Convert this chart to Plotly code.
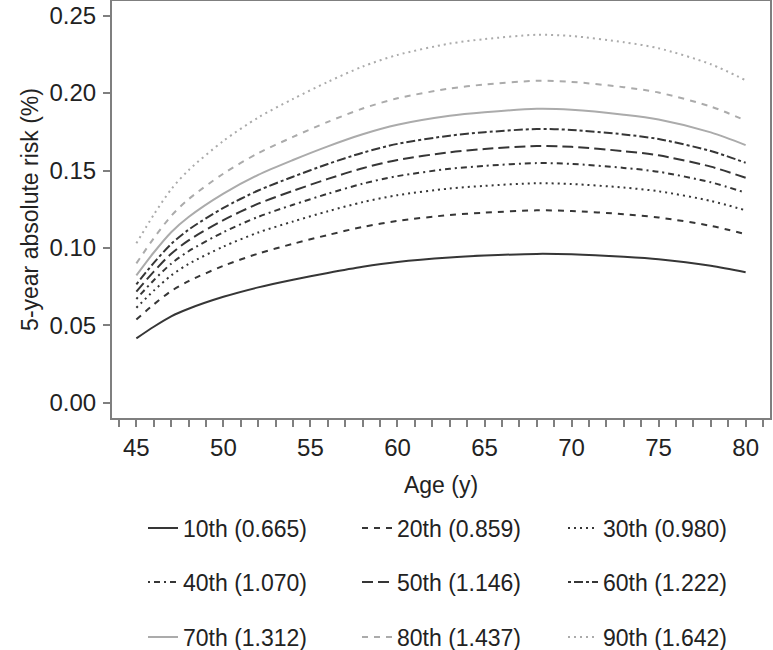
import plotly.graph_objects as go

ages = [45, 46, 47, 48, 50, 52, 54, 56, 58, 60, 63, 65, 68, 70, 73, 75, 78, 80]

p10 = [0.0417, 0.0492, 0.0559, 0.0608, 0.0685, 0.0746, 0.0795, 0.0839, 0.0879, 0.0910, 0.0939, 0.0951, 0.0962, 0.0959, 0.0943, 0.0927, 0.0885, 0.0843]
p20 = [0.0539, 0.0636, 0.0722, 0.0786, 0.0885, 0.0964, 0.1027, 0.1084, 0.1136, 0.1175, 0.1213, 0.1228, 0.1243, 0.1239, 0.1218, 0.1197, 0.1143, 0.1089]
p30 = [0.0614, 0.0725, 0.0823, 0.0897, 0.1009, 0.1100, 0.1171, 0.1237, 0.1296, 0.1341, 0.1384, 0.1401, 0.1418, 0.1413, 0.1390, 0.1366, 0.1304, 0.1243]
p40 = [0.0671, 0.0792, 0.0899, 0.0979, 0.1102, 0.1201, 0.1279, 0.1350, 0.1415, 0.1464, 0.1511, 0.1530, 0.1548, 0.1543, 0.1517, 0.1492, 0.1424, 0.1357]
p50 = [0.0719, 0.0848, 0.0963, 0.1049, 0.1180, 0.1286, 0.1369, 0.1446, 0.1515, 0.1568, 0.1618, 0.1639, 0.1658, 0.1653, 0.1625, 0.1598, 0.1525, 0.1453]
p60 = [0.0766, 0.0904, 0.1026, 0.1118, 0.1259, 0.1371, 0.1460, 0.1542, 0.1615, 0.1672, 0.1725, 0.1747, 0.1768, 0.1762, 0.1733, 0.1703, 0.1626, 0.1550]
p70 = [0.0823, 0.0971, 0.1102, 0.1200, 0.1351, 0.1472, 0.1568, 0.1656, 0.1734, 0.1795, 0.1853, 0.1876, 0.1898, 0.1892, 0.1860, 0.1829, 0.1746, 0.1664]
p80 = [0.0901, 0.1063, 0.1207, 0.1315, 0.1480, 0.1612, 0.1717, 0.1814, 0.1900, 0.1966, 0.2029, 0.2055, 0.2079, 0.2072, 0.2038, 0.2003, 0.1913, 0.1822]
p90 = [0.1030, 0.1215, 0.1379, 0.1502, 0.1691, 0.1842, 0.1962, 0.2072, 0.2171, 0.2246, 0.2319, 0.2348, 0.2376, 0.2368, 0.2328, 0.2289, 0.2186, 0.2082]

series_labels = ["10th (0.665)", "20th (0.859)", "30th (0.980)",
                 "40th (1.070)", "50th (1.146)", "60th (1.222)",
                 "70th (1.312)", "80th (1.437)", "90th (1.642)"]
series_values = [p10, p20, p30, p40, p50, p60, p70, p80, p90]

x_ticks = [45, 50, 55, 60, 65, 70, 75, 80]
y_ticks = [0.00, 0.05, 0.10, 0.15, 0.20, 0.25]

DARK = "#363636"
LIGHT = "#ababab"
styles = [
    (DARK, "solid"),
    (DARK, "6px,6px"),
    (DARK, "2px,4px"),
    (DARK, "2px,4px,6px,4px"),
    (DARK, "11px,5px"),
    (DARK, "3px,3px,9px,3px"),
    (LIGHT, "solid"),
    (LIGHT, "6px,6px"),
    (LIGHT, "2px,4px"),
]

FONT = "Liberation Sans, Arial, Helvetica, sans-serif"
TXT = "#222222"
W, H = 773, 650
ML, MR, MT, MB = 112, 3, 1, 232
PW, PH = W - ML - MR, H - MT - MB

col_px = [143, 357, 563]
row_px = [528, 582, 637]

fig = go.Figure()
legend_layouts = {}
for i, (lab, vals, (col, dash)) in enumerate(zip(series_labels, series_values, styles)):
    lid = "legend" if i == 0 else f"legend{i + 1}"
    fig.add_trace(go.Scatter(
        x=ages, y=vals, mode="lines", name=lab,
        line=dict(color=col, dash=dash, width=2, shape="spline", smoothing=0.8),
        legend=lid, hoverinfo="skip",
    ))
    cx = col_px[i % 3]
    ry = row_px[i // 3]
    legend_layouts[lid] = dict(
        x=(cx - ML) / PW, xanchor="left", y=(H - MB - ry) / PH, yanchor="middle",
        font=dict(family=FONT, size=23, color=TXT),
        bgcolor="rgba(0,0,0,0)", borderwidth=0, itemwidth=30,
    )

AX = "#7f7f7f"
fig.update_layout(
    width=W, height=H,
    margin=dict(l=ML, r=MR, t=MT, b=MB, autoexpand=False),
    paper_bgcolor="white", plot_bgcolor="white",
    font=dict(family=FONT, size=23, color=TXT),
    showlegend=True,
    xaxis=dict(
        range=[43.6, 81.4], tickvals=x_ticks, ticktext=[str(v) for v in x_ticks],
        showgrid=False, zeroline=False,
        showline=True, linecolor=AX, linewidth=2, mirror=True,
        ticks="outside", ticklen=7, tickwidth=1.5, tickcolor=AX,
        minor=dict(dtick=1, tick0=45, ticks="outside", ticklen=7, tickwidth=1.5, tickcolor=AX, showgrid=False),
        tickfont=dict(family=FONT, size=24, color=TXT),
        ticklabelstandoff=0,
        title=dict(text="Age (y)", font=dict(family=FONT, size=23, color=TXT), standoff=17),
    ),
    yaxis=dict(
        range=[-0.0097, 0.2594], tickvals=y_ticks, tickformat=".2f",
        showgrid=False, zeroline=False,
        showline=True, linecolor=AX, linewidth=2, mirror=True,
        ticks="outside", ticklen=7, tickwidth=1.5, tickcolor=AX,
        tickfont=dict(family=FONT, size=24, color=TXT),
        ticklabelstandoff=2,
        title=dict(text="5-year absolute risk (%)", font=dict(family=FONT, size=23, color=TXT), standoff=4),
    ),
    **legend_layouts,
)

fig.write_html("out.html", config={"displayModeBar": False},
               post_script="document.body.style.margin='0';document.body.style.overflow='hidden';")
